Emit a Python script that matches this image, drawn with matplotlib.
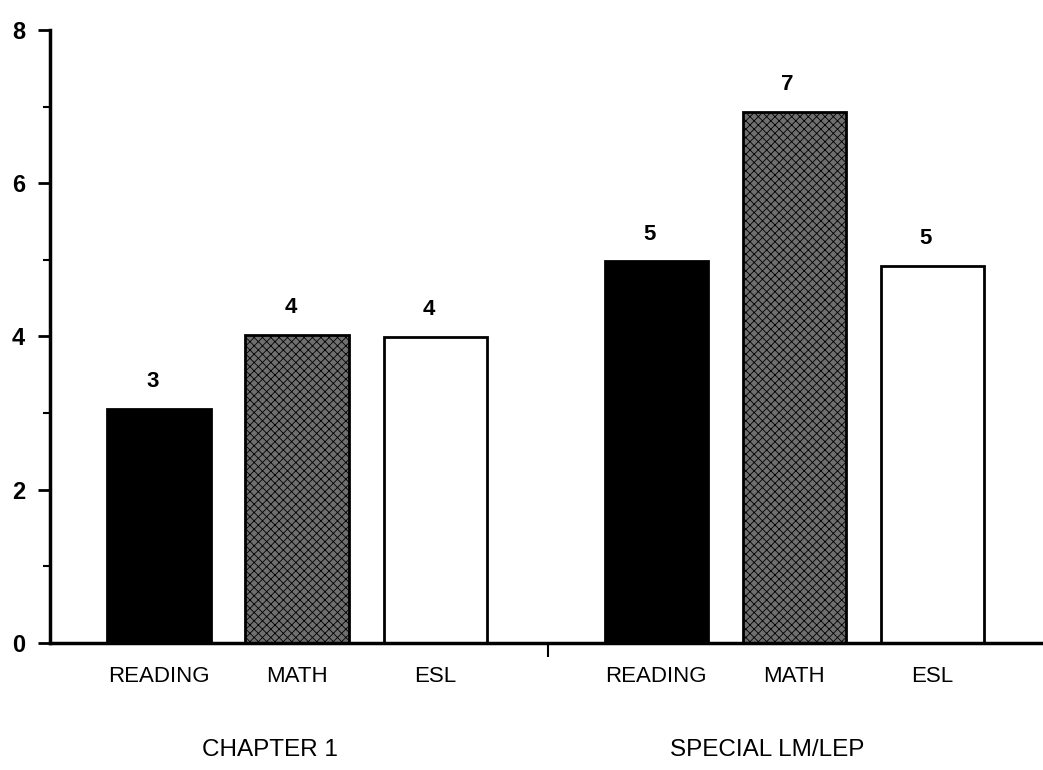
import matplotlib.pyplot as plt
from matplotlib.ticker import MultipleLocator

plt.rcParams['font.family'] = ['Liberation Sans', 'DejaVu Sans']
plt.rcParams['hatch.linewidth'] = 0.6

groups = ['CHAPTER 1', 'SPECIAL LM/LEP']
subjects = ['READING', 'MATH', 'ESL']
chapter1 = [3.05, 4.02, 3.99]
special = [4.98, 6.93, 4.92]
shown = [['3', '4', '4'], ['5', '7', '5']]

faces = ['black', '#6f6f6f', 'white']
hatches = [None, 'xxxx', None]

fig = plt.figure(figsize=(10.43, 7.7), dpi=100)
ax = fig.add_axes([0.048, 0.165, 0.952, 0.796])

offsets = [0, 3.6]
for g, vals in enumerate([chapter1, special]):
    for i, v in enumerate(vals):
        x = offsets[g] + i
        ax.bar(x, v, width=0.75, color=faces[i], edgecolor='black',
               linewidth=2, hatch=hatches[i], zorder=2)
        ax.text(x - 0.05, v + 0.22, shown[g][i], ha='center', va='bottom',
                fontsize=16, fontweight='semibold')
        ax.text(x, -0.3, subjects[i], ha='center', va='top', fontsize=16)
    ax.text(offsets[g] + 0.8, -1.26, groups[g], ha='center', va='top',
            fontsize=17.5)

ax.set_xlim(-0.79, 6.4)
ax.set_ylim(0, 8)
ax.set_yticks([0, 2, 4, 6, 8])
ax.yaxis.set_minor_locator(MultipleLocator(1))
ax.tick_params(axis='y', which='major', length=9, width=2, labelsize=17,
               pad=9)
for lab in ax.get_yticklabels():
    lab.set_fontweight('bold')
ax.tick_params(axis='y', which='minor', length=5, width=1.5)
ax.set_xticks([2.815])
ax.set_xticklabels([''])
ax.tick_params(axis='x', length=10, width=1.5)

for s in ['top', 'right']:
    ax.spines[s].set_visible(False)
ax.spines['left'].set_linewidth(2.5)
ax.spines['bottom'].set_linewidth(2.5)

plt.savefig('out.png', dpi=100)
